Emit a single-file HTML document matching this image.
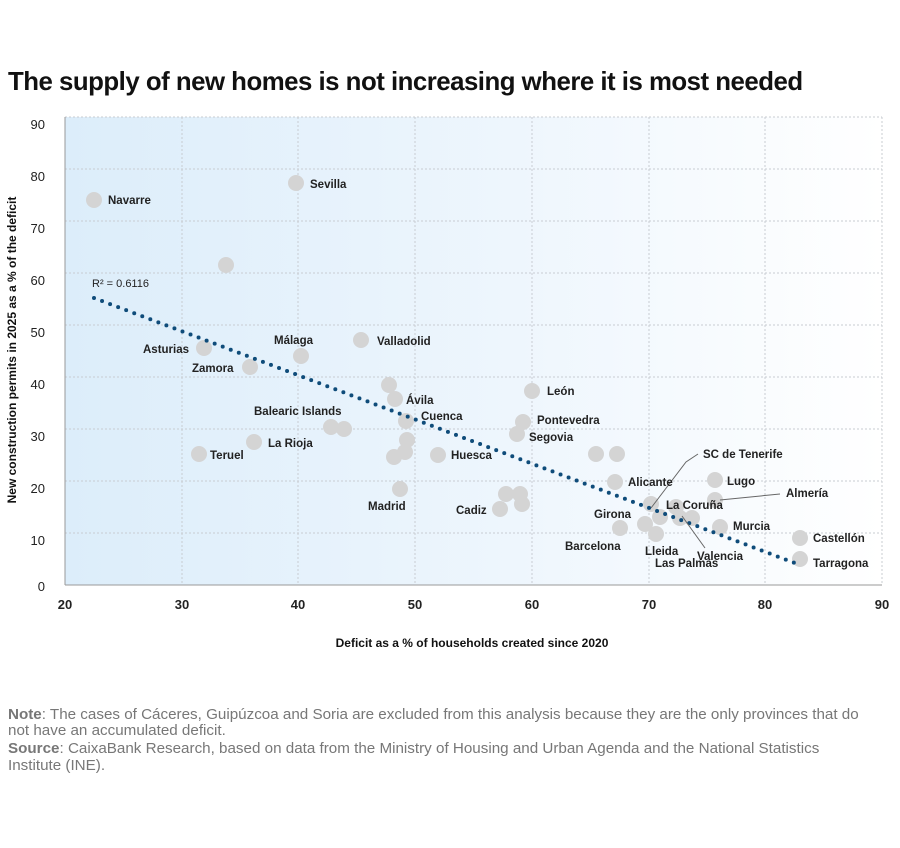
<!DOCTYPE html><html><head><style>
body{margin:0;background:#fff;font-family:"Liberation Sans",sans-serif}
</style></head><body>
<svg width="900" height="843" xmlns="http://www.w3.org/2000/svg" font-family="Liberation Sans, sans-serif">
<defs><linearGradient id="g" x1="0" x2="1"><stop offset="0" stop-color="#dcedfa"/><stop offset="0.55" stop-color="#eef6fd"/><stop offset="1" stop-color="#ffffff"/></linearGradient></defs>
<text x="8" y="90" font-size="25.8" font-weight="bold" fill="#111" letter-spacing="-0.5">The supply of new homes is not increasing where it is most needed</text>
<rect x="65" y="117" width="817" height="468" fill="url(#g)"/>
<g stroke="#c8ccd2" stroke-width="1" stroke-dasharray="2,2">
<line x1="65" y1="117" x2="882" y2="117"/><line x1="65" y1="169" x2="882" y2="169"/><line x1="65" y1="221" x2="882" y2="221"/><line x1="65" y1="273" x2="882" y2="273"/><line x1="65" y1="325" x2="882" y2="325"/><line x1="65" y1="377" x2="882" y2="377"/><line x1="65" y1="429" x2="882" y2="429"/><line x1="65" y1="481" x2="882" y2="481"/><line x1="65" y1="533" x2="882" y2="533"/>
<line x1="182" y1="117" x2="182" y2="585"/><line x1="298" y1="117" x2="298" y2="585"/><line x1="415" y1="117" x2="415" y2="585"/><line x1="532" y1="117" x2="532" y2="585"/><line x1="649" y1="117" x2="649" y2="585"/><line x1="765" y1="117" x2="765" y2="585"/><line x1="882" y1="117" x2="882" y2="585"/>
</g>
<line x1="65" y1="117" x2="65" y2="585" stroke="#999"/><line x1="65" y1="585" x2="882" y2="585" stroke="#999"/>
<g font-size="13" fill="#222" text-anchor="end">
<text x="45" y="129">90</text><text x="45" y="181">80</text><text x="45" y="233">70</text><text x="45" y="285">60</text><text x="45" y="337">50</text><text x="45" y="389">40</text><text x="45" y="441">30</text><text x="45" y="493">20</text><text x="45" y="545">10</text><text x="45" y="591">0</text>
</g>
<g font-size="13" fill="#222" text-anchor="middle" font-weight="bold">
<text x="65" y="609">20</text><text x="182" y="609">30</text><text x="298" y="609">40</text><text x="415" y="609">50</text><text x="532" y="609">60</text><text x="649" y="609">70</text><text x="765" y="609">80</text><text x="882" y="609">90</text>
</g>
<text x="472" y="647" font-size="12" font-weight="bold" text-anchor="middle" fill="#111">Deficit as a % of households created since 2020</text>
<text transform="translate(16,350) rotate(-90)" font-size="12" font-weight="bold" text-anchor="middle" fill="#111">New construction permits in 2025 as a % of the deficit</text>
<g fill="#d4d4d4">
<circle cx="94" cy="200" r="8"/><circle cx="296" cy="183" r="8"/><circle cx="226" cy="265" r="8"/><circle cx="204" cy="348" r="8"/><circle cx="250" cy="367" r="8"/><circle cx="301" cy="356" r="8"/><circle cx="361" cy="340" r="8"/><circle cx="389" cy="385" r="8"/><circle cx="395" cy="399" r="8"/><circle cx="406" cy="421" r="8"/><circle cx="331" cy="427" r="8"/><circle cx="344" cy="429" r="8"/><circle cx="407" cy="440" r="8"/><circle cx="405" cy="452" r="8"/><circle cx="394" cy="457" r="8"/><circle cx="438" cy="455" r="8"/><circle cx="199" cy="454" r="8"/><circle cx="254" cy="442" r="8"/><circle cx="400" cy="489" r="8"/><circle cx="532" cy="391" r="8"/><circle cx="523" cy="422" r="8"/><circle cx="517" cy="434" r="8"/><circle cx="596" cy="454" r="8"/><circle cx="617" cy="454" r="8"/><circle cx="615" cy="482" r="8"/><circle cx="500" cy="509" r="8"/><circle cx="506" cy="494" r="8"/><circle cx="520" cy="494" r="8"/><circle cx="522" cy="504" r="8"/><circle cx="651" cy="504" r="8"/><circle cx="660" cy="517" r="8"/><circle cx="645" cy="524" r="8"/><circle cx="620" cy="528" r="8"/><circle cx="656" cy="534" r="8"/><circle cx="676" cy="507" r="8"/><circle cx="680" cy="518" r="8"/><circle cx="692" cy="518" r="8"/><circle cx="715" cy="480" r="8"/><circle cx="715" cy="500" r="8"/><circle cx="720" cy="527" r="8"/><circle cx="800" cy="538" r="8"/><circle cx="800" cy="559" r="8"/>
</g>
<line x1="94" y1="298" x2="800" y2="565" stroke="#0f4c7a" stroke-width="4" stroke-linecap="round" stroke-dasharray="0,8.6"/>
<g stroke="#666" stroke-width="1" fill="none">
<polyline points="651,508 686,462 698,454"/><line x1="720" y1="500" x2="780" y2="494"/><line x1="682" y1="516" x2="705" y2="548"/>
</g>
<text x="92" y="287" font-size="11" fill="#222">R² = 0.6116</text>
<g font-size="11.5" font-weight="bold" fill="#222">
<text x="108" y="204">Navarre</text><text x="310" y="188">Sevilla</text><text x="143" y="353">Asturias</text><text x="192" y="372">Zamora</text><text x="274" y="344">Málaga</text><text x="377" y="345">Valladolid</text><text x="406" y="404">Ávila</text><text x="421" y="420">Cuenca</text><text x="254" y="415">Balearic Islands</text><text x="451" y="459">Huesca</text><text x="210" y="459">Teruel</text><text x="268" y="447">La Rioja</text><text x="368" y="510">Madrid</text><text x="547" y="395">León</text><text x="537" y="424">Pontevedra</text><text x="529" y="441">Segovia</text><text x="628" y="486">Alicante</text><text x="456" y="514">Cadiz</text><text x="594" y="518">Girona</text><text x="565" y="550">Barcelona</text><text x="645" y="555">Lleida</text><text x="655" y="567">Las Palmas</text><text x="697" y="560">Valencia</text><text x="666" y="509">La Coruña</text><text x="703" y="458">SC de Tenerife</text><text x="727" y="485">Lugo</text><text x="786" y="497">Almería</text><text x="733" y="530">Murcia</text><text x="813" y="542">Castellón</text><text x="813" y="567">Tarragona</text>
</g>
<g font-size="15.2" fill="#777">
<text x="8" y="719"><tspan font-weight="bold">Note</tspan>: The cases of Cáceres, Guipúzcoa and Soria are excluded from this analysis because they are the only provinces that do</text>
<text x="8" y="735">not have an accumulated deficit.</text>
<text x="8" y="753"><tspan font-weight="bold">Source</tspan>: CaixaBank Research, based on data from the Ministry of Housing and Urban Agenda and the National Statistics</text>
<text x="8" y="770">Institute (INE).</text>
</g>
</svg>
</body></html>
